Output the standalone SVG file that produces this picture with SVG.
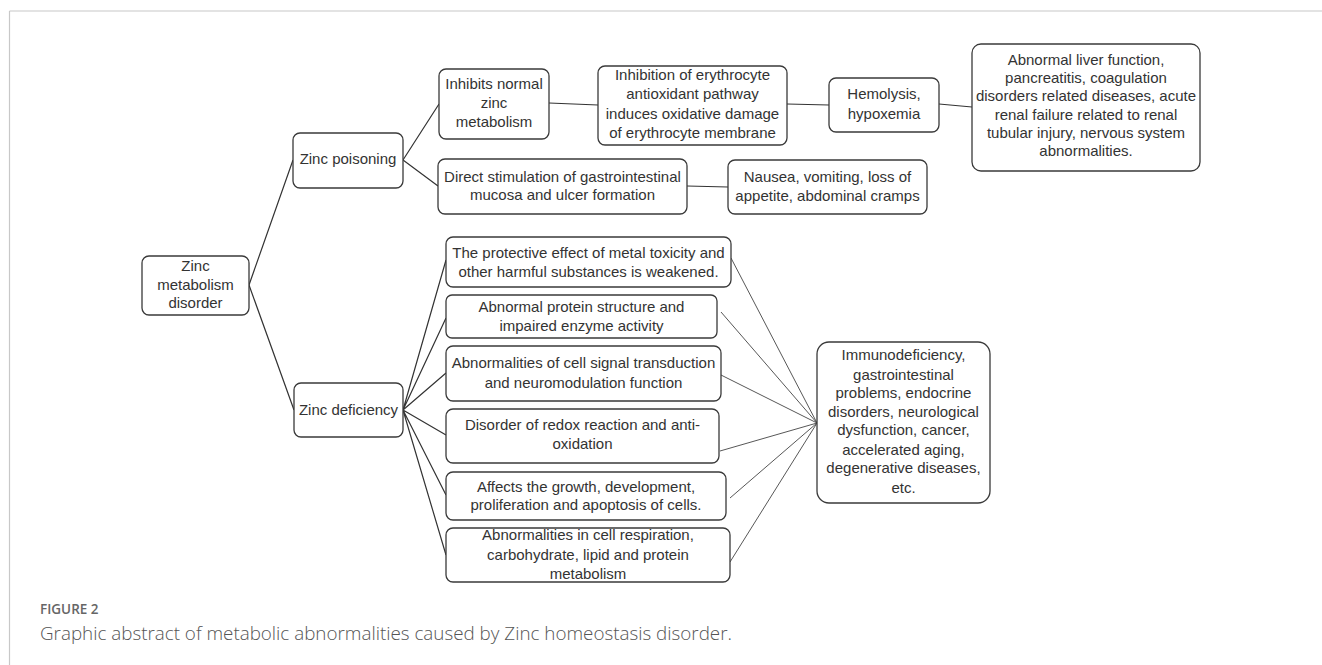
<svg xmlns="http://www.w3.org/2000/svg" width="1322" height="665" viewBox="0 0 1322 665">
<style>
.b{fill:#fff;stroke:#3a3a3a;stroke-width:1.3}
.t{font-family:"Liberation Sans",Arial,sans-serif;font-size:15px;fill:#333;text-anchor:middle}
.c{fill:none;stroke:#333;stroke-width:1.2}
.c2{fill:none;stroke:#444;stroke-width:0.9}
</style>
<rect width="1322" height="665" fill="#fff"/>
<line x1="9.5" y1="11" x2="1322" y2="11" stroke="#c8c8c8" stroke-width="1.2"/>
<line x1="9.5" y1="11" x2="9.5" y2="665" stroke="#c8c8c8" stroke-width="1.2"/>
<g id="connectors">
<path class="c" d="M249,285 L293,160 M249,285 L294,410"/>
<path class="c" d="M403,160 L439,104 M403,160 L438,186"/>
<path class="c" d="M549,103 L598,105 M787,104 L829,105 M939,104 L972,107 M687,186 L728,187"/>
<path class="c" d="M403,410 L446,260 M403,410 L446,318 M403,410 L446,373 M403,410 L446,435 M403,410 L446,495 M403,410 L446,555"/>
<path class="c2" d="M731,258 L817,423 M721,312 L817,423 M721,375 L817,423 M720,451 L817,423 M730,498 L817,423 M730,562 L817,423"/>
</g>
<g id="n-root"><rect class="b" x="142" y="256" width="107" height="59" rx="7"/>
<text class="t" x="195.5" y="271">Zinc</text><text class="t" x="195.5" y="290">metabolism</text><text class="t" x="195.5" y="308">disorder</text></g>
<g id="n-poison"><rect class="b" x="293" y="133" width="110" height="55" rx="7"/>
<text class="t" x="348" y="164">Zinc poisoning</text></g>
<g id="n-inhibits"><rect class="b" x="439" y="69" width="110" height="70" rx="7"/>
<text class="t" x="494" y="89">Inhibits normal</text><text class="t" x="494" y="108">zinc</text><text class="t" x="494" y="127">metabolism</text></g>
<g id="n-erythro"><rect class="b" x="598" y="66" width="189" height="79" rx="7"/>
<text class="t" x="692.5" y="80">Inhibition of erythrocyte</text><text class="t" x="692.5" y="99">antioxidant pathway</text><text class="t" x="692.5" y="119">induces oxidative damage</text><text class="t" x="692.5" y="138">of erythrocyte membrane</text></g>
<g id="n-hemo"><rect class="b" x="829" y="78" width="110" height="54" rx="7"/>
<text class="t" x="884" y="99">Hemolysis,</text><text class="t" x="884" y="119">hypoxemia</text></g>
<g id="n-liver"><rect class="b" x="972" y="44" width="228" height="127" rx="9"/>
<text class="t" x="1086" y="65">Abnormal liver function,</text><text class="t" x="1086" y="83">pancreatitis, coagulation</text><text class="t" x="1086" y="101">disorders related diseases, acute</text><text class="t" x="1086" y="120">renal failure related to renal</text><text class="t" x="1086" y="138">tubular injury, nervous system</text><text class="t" x="1086" y="156">abnormalities.</text></g>
<g id="n-direct"><rect class="b" x="438" y="159" width="249" height="55" rx="7"/>
<text class="t" x="562.5" y="182">Direct stimulation of gastrointestinal</text><text class="t" x="562.5" y="200">mucosa and ulcer formation</text></g>
<g id="n-nausea"><rect class="b" x="728" y="160" width="199" height="54" rx="7"/>
<text class="t" x="827.5" y="182">Nausea, vomiting, loss of</text><text class="t" x="827.5" y="201">appetite, abdominal cramps</text></g>
<g id="n-deficiency"><rect class="b" x="294" y="383" width="109" height="54" rx="7"/>
<text class="t" x="348.5" y="415">Zinc deficiency</text></g>
<g id="n-protective"><rect class="b" x="446" y="237" width="285" height="50" rx="7"/>
<text class="t" x="588.5" y="258">The protective effect of metal toxicity and</text><text class="t" x="588.5" y="277">other harmful substances is weakened.</text></g>
<g id="n-protein"><rect class="b" x="446" y="295" width="271" height="43" rx="6"/>
<text class="t" x="581.5" y="312">Abnormal protein structure and</text><text class="t" x="581.5" y="331">impaired enzyme activity</text></g>
<g id="n-signal"><rect class="b" x="446" y="346" width="275" height="55" rx="7"/>
<text class="t" x="583.5" y="368">Abnormalities of cell signal transduction</text><text class="t" x="583.5" y="388">and neuromodulation function</text></g>
<g id="n-redox"><rect class="b" x="446" y="409" width="273" height="54" rx="7"/>
<text class="t" x="582.5" y="430">Disorder of redox reaction and anti-</text><text class="t" x="582.5" y="449">oxidation</text></g>
<g id="n-growth"><rect class="b" x="446" y="472" width="280" height="48" rx="7"/>
<text class="t" x="586" y="492">Affects the growth, development,</text><text class="t" x="586" y="510">proliferation and apoptosis of cells.</text></g>
<g id="n-resp"><rect class="b" x="446" y="528" width="284" height="54" rx="7"/>
<text class="t" x="588" y="540">Abnormalities in cell respiration,</text><text class="t" x="588" y="560">carbohydrate, lipid and protein</text><text class="t" x="588" y="579">metabolism</text></g>
<g id="n-immuno"><rect class="b" x="817" y="342" width="173" height="161" rx="12"/>
<text class="t" x="903.5" y="360">Immunodeficiency,</text><text class="t" x="903.5" y="380">gastrointestinal</text><text class="t" x="903.5" y="398">problems, endocrine</text><text class="t" x="903.5" y="417">disorders, neurological</text><text class="t" x="903.5" y="435">dysfunction, cancer,</text><text class="t" x="903.5" y="455">accelerated aging,</text><text class="t" x="903.5" y="473">degenerative diseases,</text><text class="t" x="903.5" y="493">etc.</text></g>
<g id="caption">
<text x="40" y="614" font-family="'Open Sans',sans-serif" font-size="13.5" font-weight="600" fill="#666">FIGURE 2</text>
<text x="40" y="640" font-family="'Open Sans',sans-serif" font-size="17.5" font-weight="300" fill="#555" textLength="692" lengthAdjust="spacingAndGlyphs">Graphic abstract of metabolic abnormalities caused by Zinc homeostasis disorder.</text>
</g>
</svg>
